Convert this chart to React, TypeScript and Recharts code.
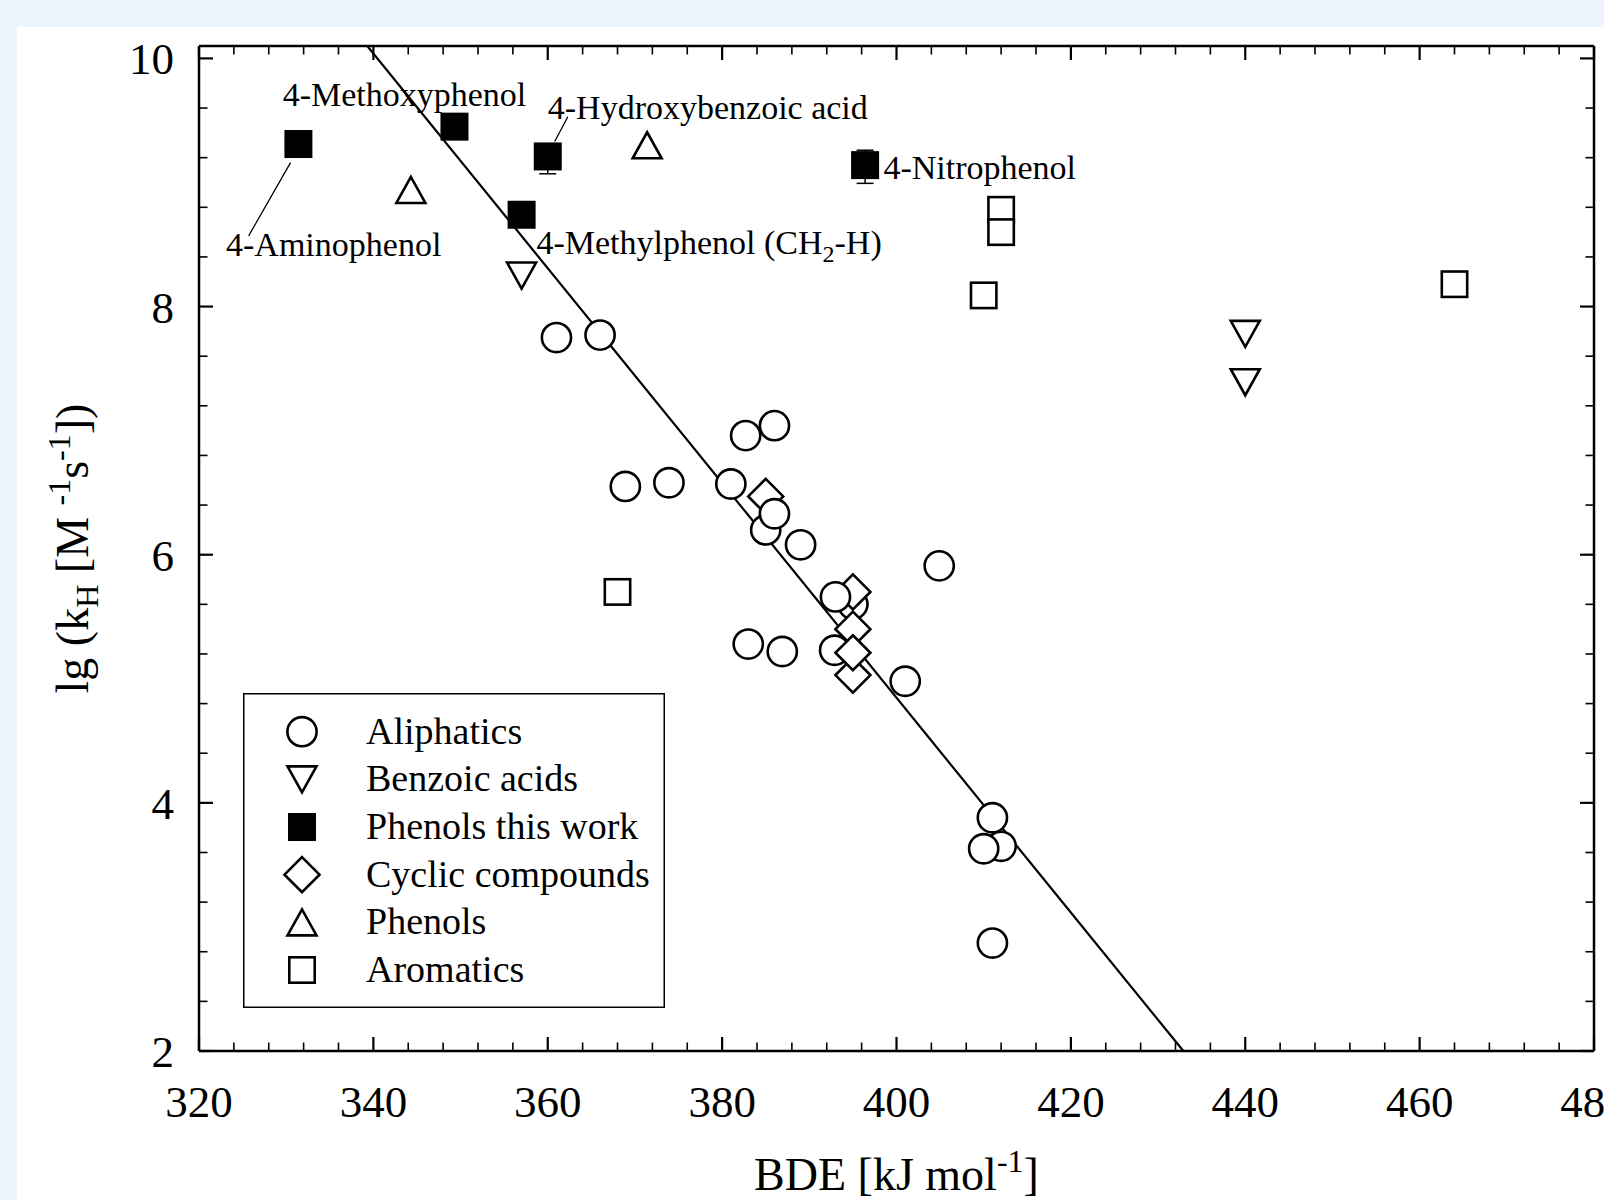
import React from 'react';
import { ScatterChart, Scatter, XAxis, YAxis, ErrorBar, ReferenceLine, Legend } from 'recharts';

const FONT = "'Liberation Serif', 'Times New Roman', Times, serif";

// tick values
const xMajor = [320, 340, 360, 380, 400, 420, 440, 460, 480];
const xMinor = [
  324, 328, 332, 336, 344, 348, 352, 356, 364, 368, 372, 376, 384, 388, 392, 396,
  404, 408, 412, 416, 424, 428, 432, 436, 444, 448, 452, 456, 464, 468, 472, 476,
];
const yMajor = [2, 4, 6, 8, 10];
const yMinor = [2.4, 2.8, 3.2, 3.6, 4.4, 4.8, 5.2, 5.6, 6.4, 6.8, 7.2, 7.6, 8.4, 8.8, 9.2, 9.6];
const xTicks = [...xMajor, ...xMinor];
const yTicks = [...yMajor, ...yMinor];

// series (BDE in kJ/mol, lg kH)
// two aliphatics that sit underneath the cyclic diamonds
const aliphaticsBack = [
  { bde: 395.0, lg: 5.6 },
  { bde: 392.9, lg: 5.23 },
];
const aliphatics = [
  { bde: 361.0, lg: 7.75 },
  { bde: 366.0, lg: 7.77 },
  { bde: 368.9, lg: 6.55 },
  { bde: 373.9, lg: 6.58 },
  { bde: 381.0, lg: 6.57 },
  { bde: 386.0, lg: 7.04 },
  { bde: 382.7, lg: 6.96 },
  { bde: 385.0, lg: 6.2 },
  { bde: 386.0, lg: 6.33 },
  { bde: 389.0, lg: 6.08 },
  { bde: 404.9, lg: 5.91 },
  { bde: 393.0, lg: 5.66 },
  { bde: 383.0, lg: 5.28 },
  { bde: 386.9, lg: 5.22 },
  { bde: 401.0, lg: 4.98 },
  { bde: 412.0, lg: 3.65 },
  { bde: 410.0, lg: 3.63 },
  { bde: 411.0, lg: 3.88 },
  { bde: 411.0, lg: 2.87 },
];
const benzoicAcids = [
  { bde: 357.0, lg: 8.25 },
  { bde: 440.0, lg: 7.78 },
  { bde: 440.0, lg: 7.39 },
];
const phenolsThisWork = [
  { bde: 331.4, lg: 9.31, err: [0, 0] },
  { bde: 349.3, lg: 9.45, err: [0, 0] },
  { bde: 360.0, lg: 9.21, err: [0.14, 0.1] },
  { bde: 357.0, lg: 8.74, err: [0, 0] },
  { bde: 396.4, lg: 9.14, err: [0.147, 0.12] },
];
const cyclicCompounds = [
  { bde: 385.0, lg: 6.47 },
  { bde: 395.0, lg: 5.7 },
  { bde: 395.0, lg: 5.4 },
  { bde: 395.0, lg: 5.03 },
  { bde: 395.0, lg: 5.21 },
];
const phenols = [
  { bde: 344.3, lg: 8.94 },
  { bde: 371.4, lg: 9.3 },
];
const aromatics = [
  { bde: 368.0, lg: 5.7 },
  { bde: 410.0, lg: 8.09 },
  { bde: 412.0, lg: 8.78 },
  { bde: 412.0, lg: 8.6 },
  { bde: 464.0, lg: 8.18 },
];

// regression line end points
const fitLine = [
  { bde: 339.3, lg: 10.1 },
  { bde: 432.9, lg: 2.0 },
];

// annotations (left edge / baseline of the text)
const annoText = ['4-Methoxyphenol', '4-Hydroxybenzoic acid', '4-Nitrophenol', '4-Methylphenol (CH|2|-H)', '4-Aminophenol'];
const annoBde = [329.6, 360.0, 398.5, 358.7, 323.1];
const annoLg = [9.62, 9.51, 9.03, 8.42, 8.41];
const annotations = annoText.map((text, i) => ({ bde: annoBde[i], lg: annoLg[i], text }));

const hydroxyLeader = [
  { x: 362.3, y: 9.53 },
  { x: 360.8, y: 9.33 },
];
const aminoLeader = [
  { x: 325.7, y: 8.57 },
  { x: 330.5, y: 9.16 },
];

const legendNames = ['Aliphatics', 'Benzoic acids', 'Phenols this work', 'Cyclic compounds', 'Phenols', 'Aromatics'];

const SW = 2.6;

const circle = (cx: number, cy: number) => (
  <circle cx={cx} cy={cy} r={14.6} fill="#fff" stroke="#000" strokeWidth={SW} />
);
const downTri = (cx: number, cy: number) => (
  <polygon
    points={`${cx - 14.5},${cy - 13} ${cx + 14.5},${cy - 13} ${cx},${cy + 13}`}
    fill="#fff"
    stroke="#000"
    strokeWidth={SW}
  />
);
const upTri = (cx: number, cy: number) => (
  <polygon
    points={`${cx - 14.5},${cy + 13} ${cx + 14.5},${cy + 13} ${cx},${cy - 13}`}
    fill="#fff"
    stroke="#000"
    strokeWidth={SW}
  />
);
const filledSq = (cx: number, cy: number) => <rect x={cx - 14} y={cy - 14} width={28} height={28} fill="#000" />;
const openSq = (cx: number, cy: number) => (
  <rect x={cx - 12.7} y={cy - 12.7} width={25.4} height={25.4} fill="#fff" stroke="#000" strokeWidth={SW} />
);
const diamond = (cx: number, cy: number) => (
  <polygon
    points={`${cx},${cy - 17.5} ${cx + 17.5},${cy} ${cx},${cy + 17.5} ${cx - 17.5},${cy}`}
    fill="#fff"
    stroke="#000"
    strokeWidth={SW}
  />
);
const legendShapes = [circle, downTri, filledSq, diamond, upTri, openSq];

const shapeOf = (fn: (cx: number, cy: number) => React.ReactElement) => (p: any) => fn(p.cx, p.cy);

const AnnotationText = (p: any) => {
  const parts = String(p.payload.text).split('|');
  return (
    <text x={p.cx} y={p.cy} fontFamily={FONT} fontSize={34} fill="#000">
      {parts[0]}
      {parts[1] && (
        <tspan dy={8} fontSize={24}>
          {parts[1]}
        </tspan>
      )}
      {parts[2] && <tspan dy={-8}>{parts[2]}</tspan>}
    </text>
  );
};

// inward ticks, drawn by hand so major and minor can have different lengths
const BottomTick = (p: any) => {
  const v = p.payload.value;
  const major = xMajor.includes(v);
  return (
    <g>
      <line x1={p.x} y1={p.y} x2={p.x} y2={p.y - (major ? 14 : 8.5)} stroke="#000" strokeWidth={major ? 2.2 : 1.6} />
      {major && (
        <text x={p.x} y={p.y + 66} textAnchor="middle" fontFamily={FONT} fontSize={45} fill="#000">
          {v}
        </text>
      )}
    </g>
  );
};
const TopTick = (p: any) => {
  const major = xMajor.includes(p.payload.value);
  return <line x1={p.x} y1={p.y} x2={p.x} y2={p.y + (major ? 14 : 8.5)} stroke="#000" strokeWidth={major ? 2.2 : 1.6} />;
};
const LeftTick = (p: any) => {
  const v = p.payload.value;
  const major = yMajor.includes(v);
  return (
    <g>
      <line x1={p.x} y1={p.y} x2={p.x + (major ? 14 : 8.5)} y2={p.y} stroke="#000" strokeWidth={major ? 2.2 : 1.6} />
      {major && (
        <text x={p.x - 25} y={p.y + 16} textAnchor="end" fontFamily={FONT} fontSize={45} fill="#000">
          {v}
        </text>
      )}
    </g>
  );
};
const RightTick = (p: any) => {
  const major = yMajor.includes(p.payload.value);
  return <line x1={p.x} y1={p.y} x2={p.x - (major ? 14 : 8.5)} y2={p.y} stroke="#000" strokeWidth={major ? 2.2 : 1.6} />;
};

const XTitle = (props: any) => {
  const vb = props.viewBox;
  return (
    <text x={vb.x + vb.width / 2} y={vb.y + 139} textAnchor="middle" fontFamily={FONT} fontSize={46} fill="#000">
      BDE [kJ mol
      <tspan dy={-18} fontSize={32}>
        -1
      </tspan>
      <tspan dy={18}>]</tspan>
    </text>
  );
};

const YTitle = (props: any) => {
  const vb = props.viewBox;
  return (
    <text
      transform={`translate(${vb.x + 9}, ${vb.y + vb.height / 2}) rotate(-90)`}
      textAnchor="middle"
      fontFamily={FONT}
      fontSize={46}
      fill="#000"
    >
      lg (k
      <tspan dy={10} fontSize={32}>
        H
      </tspan>
      <tspan dy={-10}> [M </tspan>
      <tspan dy={-18} fontSize={32}>
        -1
      </tspan>
      <tspan dy={18}>s</tspan>
      <tspan dy={-18} fontSize={32}>
        -1
      </tspan>
      <tspan dy={18}>])</tspan>
    </text>
  );
};

const LegendBox = () => (
  <svg width={422} height={315} style={{ display: 'block' }}>
    <rect x={0.75} y={0.75} width={420.5} height={313.5} fill="#fff" stroke="#000" strokeWidth={1.5} />
    {legendNames.map((name, i) => {
      const base = 50.7 + i * 47.66;
      return (
        <g key={name}>
          {legendShapes[i](59, base - 12)}
          <text x={123} y={base} fontFamily={FONT} fontSize={38} fill="#000">
            {name}
          </text>
        </g>
      );
    })}
  </svg>
);

const frame = { stroke: '#000', strokeWidth: 2.5 };

export default function App() {
  return (
    <div style={{ position: 'absolute', left: 0, top: 0, width: 1604, height: 1200, background: '#edf4fe', overflow: 'hidden' }}>
      <div style={{ position: 'absolute', left: 17, top: 27, right: 0, bottom: 0, background: '#fff' }} />
      <div style={{ position: 'absolute', left: 0, top: 0 }}>
        <ScatterChart width={1604} height={1200} margin={{ top: 44, right: 8, bottom: 89, left: 79 }}>
          <XAxis
            type="number"
            dataKey="bde"
            domain={[320, 480]}
            allowDataOverflow
            ticks={xTicks}
            interval={0}
            tickSize={0}
            tickMargin={0}
            tickLine={false}
            tick={<BottomTick />}
            axisLine={frame}
            height={60}
            label={{ content: (p: any) => <XTitle {...p} /> }}
          />
          <XAxis
            xAxisId="top"
            orientation="top"
            type="number"
            dataKey="bde"
            domain={[320, 480]}
            allowDataOverflow
            ticks={xTicks}
            interval={0}
            tickSize={0}
            tickMargin={0}
            tickLine={false}
            tick={<TopTick />}
            axisLine={frame}
            height={2}
          />
          <YAxis
            type="number"
            dataKey="lg"
            domain={[2, 10.1]}
            allowDataOverflow
            ticks={yTicks}
            interval={0}
            tickSize={0}
            tickMargin={0}
            tickLine={false}
            tick={<LeftTick />}
            axisLine={frame}
            width={120}
            label={{ content: (p: any) => <YTitle {...p} /> }}
          />
          <YAxis
            yAxisId="right"
            orientation="right"
            type="number"
            dataKey="lg"
            domain={[2, 10.1]}
            allowDataOverflow
            ticks={yTicks}
            interval={0}
            tickSize={0}
            tickMargin={0}
            tickLine={false}
            tick={<RightTick />}
            axisLine={frame}
            width={2}
          />
          <Scatter
            name="fit"
            data={fitLine}
            line={{ stroke: '#000', strokeWidth: 2.2 }}
            shape={() => <g />}
            isAnimationActive={false}
          />
          <ReferenceLine
            xAxisId="top"
            yAxisId="right"
            segment={hydroxyLeader}
            stroke="#000"
            strokeWidth={1.3}
            ifOverflow="visible"
          />
          <ReferenceLine
            xAxisId="top"
            yAxisId="right"
            segment={aminoLeader}
            stroke="#000"
            strokeWidth={1.3}
            ifOverflow="visible"
          />
          <Scatter name="Aromatics" data={aromatics} shape={shapeOf(openSq)} isAnimationActive={false} />
          <Scatter name="Phenols" data={phenols} shape={shapeOf(upTri)} isAnimationActive={false} />
          <Scatter name="Benzoic acids" data={benzoicAcids} shape={shapeOf(downTri)} isAnimationActive={false} />
          <Scatter name="Aliphatics (back)" data={aliphaticsBack} shape={shapeOf(circle)} isAnimationActive={false} />
          <Scatter name="Cyclic compounds" data={cyclicCompounds} shape={shapeOf(diamond)} isAnimationActive={false} />
          <Scatter name="Aliphatics" data={aliphatics} shape={shapeOf(circle)} isAnimationActive={false} />
          <Scatter name="Phenols this work" data={phenolsThisWork} shape={shapeOf(filledSq)} isAnimationActive={false}>
            <ErrorBar dataKey="err" direction="y" width={8.5} stroke="#000" strokeWidth={1.5} />
          </Scatter>
          <Scatter
            name="labels"
            xAxisId="top"
            yAxisId="right"
            data={annotations}
            shape={(p: any) => <AnnotationText {...p} />}
            isAnimationActive={false}
          />
          <Legend
            layout="vertical"
            align="center"
            verticalAlign="middle"
            wrapperStyle={{ position: 'absolute', left: 243, top: 693, width: 422, height: 315 }}
            content={() => <LegendBox />}
          />
        </ScatterChart>
      </div>
    </div>
  );
}
